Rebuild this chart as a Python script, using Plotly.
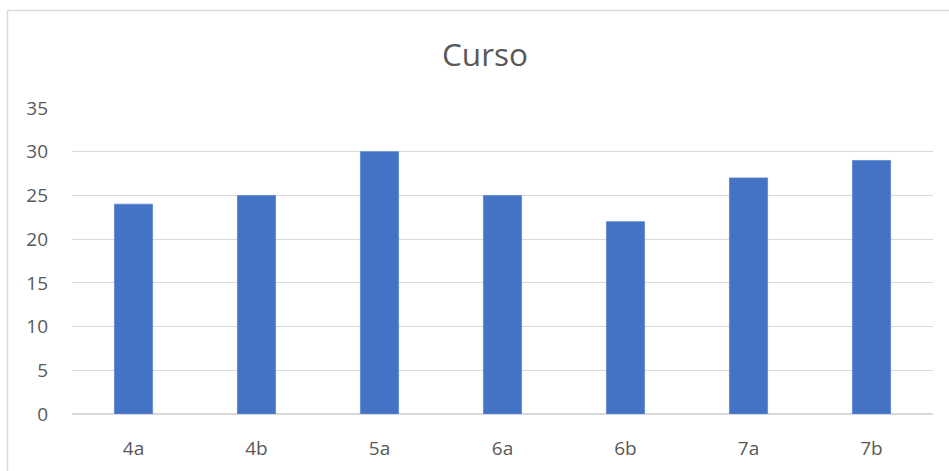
import plotly.graph_objects as go

# Students per class group
cursos = ["4a", "4b", "5a", "6a", "6b", "7a", "7b"]
alumnos = [24, 25, 30, 25, 22, 27, 29]
y_ticks = [0, 5, 10, 15, 20, 25, 30, 35]

W, H = 949, 471
L, R, T, B = 72, 16, 108, 57

fig = go.Figure(
    go.Bar(
        x=cursos,
        y=alumnos,
        marker=dict(color="#4472C4", line=dict(color="#5B85D0", width=0.8)),
        hoverinfo="x+y",
    )
)

text_color = "#595959"
grid_color = "#D9D9D9"
font_family = "Open Sans, Liberation Sans, sans-serif"

fig.update_layout(
    width=W,
    height=H,
    margin=dict(l=L, r=R, t=T, b=B),
    paper_bgcolor="white",
    plot_bgcolor="white",
    bargap=0.69,
    showlegend=False,
    title=dict(
        text="Curso",
        x=485 / W,
        xref="container",
        xanchor="center",
        y=1 - 55 / H,
        yanchor="middle",
        font=dict(family=font_family, size=31.5, color=text_color),
    ),
    font=dict(family=font_family, size=19, color=text_color),
    xaxis=dict(
        automargin=False,
        showgrid=False,
        showline=True,
        linecolor=grid_color,
        linewidth=1,
        ticks="",
        ticklabelstandoff=17,
        tickfont=dict(size=19, color=text_color),
    ),
    yaxis=dict(
        automargin=False,
        range=[0, 35],
        tickvals=y_ticks,
        showgrid=True,
        gridcolor=grid_color,
        gridwidth=1,
        zeroline=True,
        zerolinecolor=grid_color,
        showline=False,
        ticks="",
        ticklabelstandoff=23,
        tickfont=dict(size=19, color=text_color),
    ),
    shapes=[
        # light chart-area frame
        dict(
            type="rect",
            xref="paper",
            yref="paper",
            x0=(7.5 - L) / (W - L - R),
            x1=1.2,
            y0=-0.3,
            y1=(H - B - 10.5) / (H - T - B),
            line=dict(color=grid_color, width=1.5),
            fillcolor="rgba(0,0,0,0)",
            layer="below",
        )
    ],
)

fig.write_html("out.html")
